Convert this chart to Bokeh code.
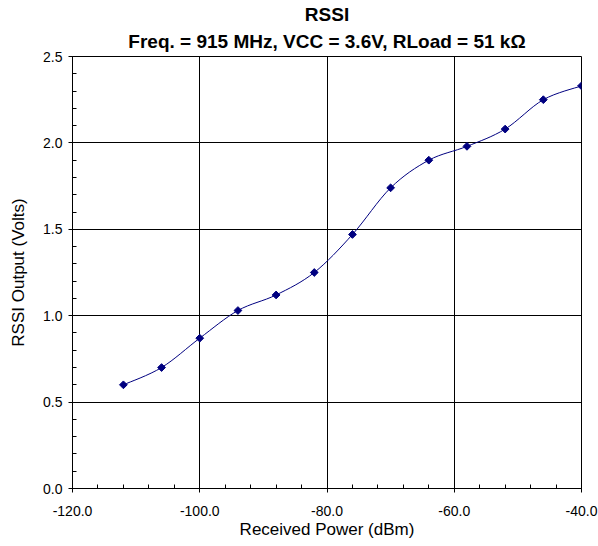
import math
from bokeh.plotting import figure
from bokeh.models import FixedTicker, Range1d, Title, NumeralTickFormatter
from bokeh.embed import file_html
from bokeh.resources import INLINE

# Data
power_dbm = [-112, -106, -100, -94, -88, -82, -76, -70, -64, -58, -52, -46, -40]
rssi_volts = [0.60, 0.70, 0.87, 1.03, 1.12, 1.25, 1.47, 1.74, 1.90, 1.98, 2.08, 2.25, 2.33]

x_major = [-120, -100, -80, -60, -40]
x_minor = list(range(-120, -39, 4))
y_major = [0.0, 0.5, 1.0, 1.5, 2.0, 2.5]
y_minor = [i / 10 for i in range(0, 26)]

title1 = "RSSI"
title2 = "Freq. = 915 MHz, VCC = 3.6V, RLoad = 51 kΩ"
x_title = "Received Power (dBm)"
y_title = "RSSI Output (Volts)"

FONT = "Liberation Sans"
NAVY = "#000080"

p = figure(width=598, height=546, output_backend="svg", toolbar_location=None,
           title=None, x_range=Range1d(-120, -40), y_range=Range1d(0, 2.5),
           min_border_left=72, min_border_right=17, min_border_top=56,
           min_border_bottom=58)
p.outline_line_color = "black"
p.outline_line_width = 1
p.background_fill_color = "white"
p.border_fill_color = "white"

p.xaxis.ticker = FixedTicker(ticks=x_major, minor_ticks=x_minor)
p.yaxis.ticker = FixedTicker(ticks=y_major, minor_ticks=y_minor)
p.xaxis.formatter = NumeralTickFormatter(format="0.0")
p.yaxis.formatter = NumeralTickFormatter(format="0.0")
for ax in (p.xaxis, p.yaxis):
    ax.axis_line_color = "black"
    ax.major_tick_line_color = "black"
    ax.minor_tick_line_color = "black"
    ax.major_tick_out = 4
    ax.major_tick_in = 0
    ax.minor_tick_in = 4
    ax.minor_tick_out = 0
    ax.major_label_text_font = FONT
    ax.major_label_text_font_size = "14px"
    ax.major_label_text_color = "black"
    ax.axis_label_text_font = FONT
    ax.axis_label_text_font_size = "17px"
    ax.axis_label_text_font_style = "normal"
    ax.axis_label_text_color = "black"
p.xaxis.major_label_standoff = 13
p.yaxis.major_label_standoff = 6
p.xaxis.axis_label = x_title
p.yaxis.axis_label = y_title
p.xaxis.axis_label_standoff = 1
p.yaxis.axis_label_standoff = 12

p.xgrid.ticker = FixedTicker(ticks=x_major)
p.ygrid.ticker = FixedTicker(ticks=y_major)
p.grid.grid_line_color = "black"
p.grid.grid_line_width = 1
p.grid.grid_line_alpha = 1.0

# Smoothed line (Bezier through the data points)
n = len(power_dbm)
x0s, y0s, x1s, y1s, cx0, cy0, cx1, cy1 = [], [], [], [], [], [], [], []
for i in range(n - 1):
    xa, ya = power_dbm[i], rssi_volts[i]
    xb, yb = power_dbm[i + 1], rssi_volts[i + 1]
    xp, yp = (power_dbm[i - 1], rssi_volts[i - 1]) if i > 0 else (xa, ya)
    xn, yn = (power_dbm[i + 2], rssi_volts[i + 2]) if i + 2 < n else (xb, yb)
    x0s.append(xa); y0s.append(ya); x1s.append(xb); y1s.append(yb)
    cx0.append(xa + (xb - xp) / 6); cy0.append(ya + (yb - yp) / 6)
    cx1.append(xb - (xn - xa) / 6); cy1.append(yb - (yn - ya) / 6)
p.bezier(x0=x0s, y0=y0s, x1=x1s, y1=y1s, cx0=cx0, cy0=cy0, cx1=cx1, cy1=cy1,
         line_color=NAVY, line_width=1)
p.scatter(power_dbm, rssi_volts, marker="square", angle=math.pi / 4, size=5.5,
          fill_color=NAVY, line_color=NAVY)

# Titles (first added sits nearest the plot)
p.add_layout(Title(text=title2, align="center", text_font=FONT,
                   text_font_style="bold", text_font_size="19px",
                   text_color="black", standoff=9), "above")
p.add_layout(Title(text=title1, align="center", text_font=FONT,
                   text_font_style="bold", text_font_size="19px",
                   text_color="black", standoff=0), "above")

open("out.html", "w").write(file_html(p, INLINE))
